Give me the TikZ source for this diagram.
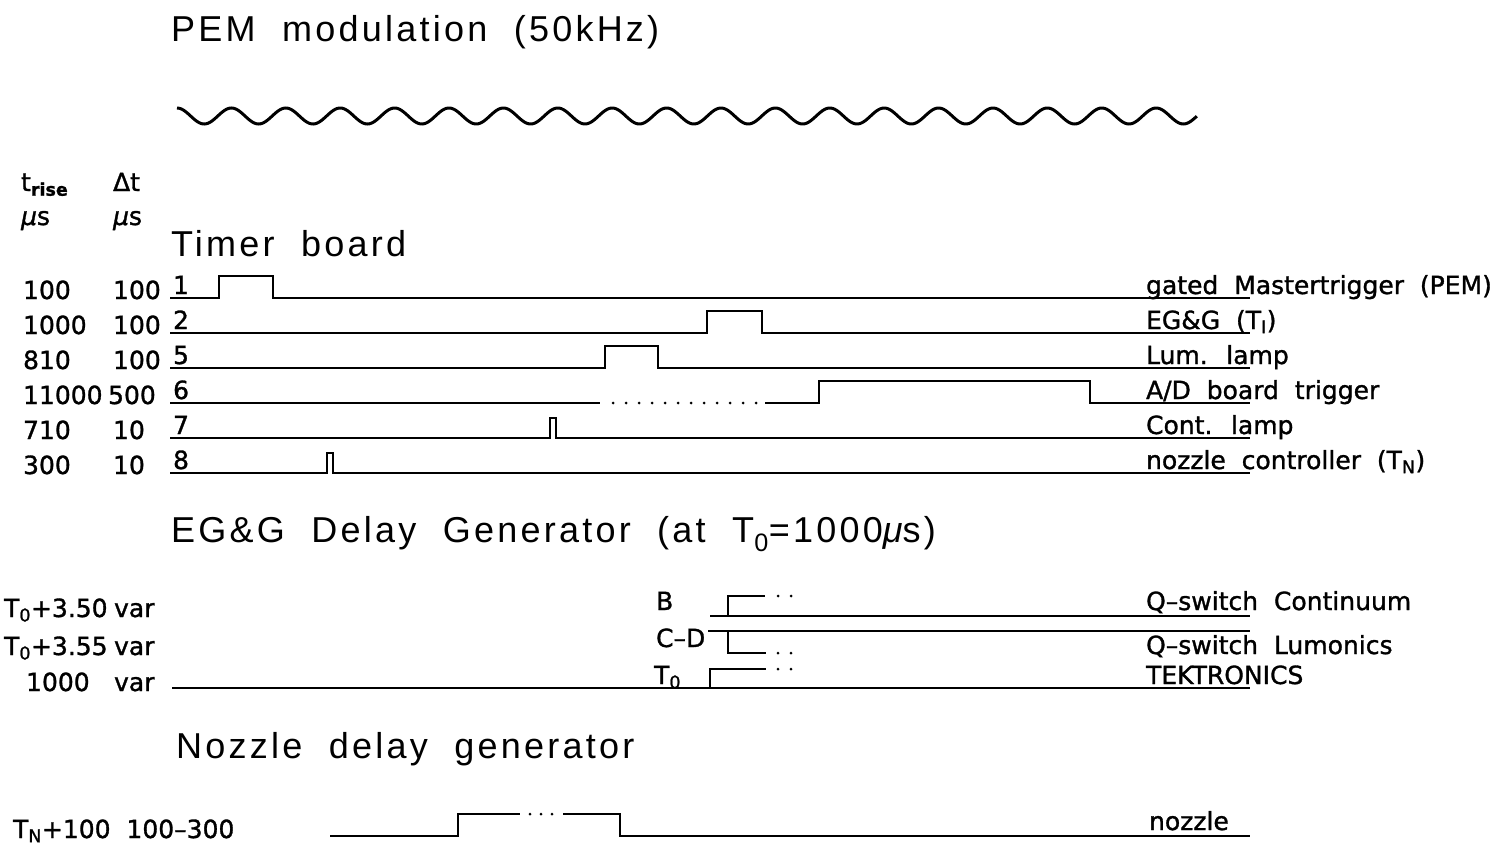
\documentclass[tikz,border=0pt]{standalone}
\usepackage{fontspec}
\setmainfont{DejaVu Sans}[WordSpace=2, FakeBold=1.2]
\newfontfamily\headfont{Liberation Sans}[LetterSpace=9, WordSpace=2]
\usetikzlibrary{positioning}
\tikzset{
  lab/.style={anchor=base west, inner sep=0pt, font=\fontsize{25}{25}\selectfont},
  head/.style={anchor=base west, inner sep=0pt, font=\headfont\fontsize{36}{36}\selectfont},
  dot/.style={fill, circle, inner sep=0pt, minimum size=3pt}
}

\begin{document}
\begin{tikzpicture}[x=1pt, y=-1pt, line width=2.2pt]
  \useasboundingbox (0,0) rectangle (1507,849);
  % PEM modulation
  \node[head] (pem) at (170,41) {PEM modulation (50kHz)};
  \draw[line width=3pt] plot[domain=0:18.75, samples=600, smooth] ({177+54.4*\x},{116-8*cos(360*\x)});

  % column heads
  \node[lab] (trise) at (20,191) {t\textsubscript{\bfseries rise}};
  \node[lab] (dtime) at (112,191) {Δt};
  \node[lab] (trunit) at (20,225) {{\itshape μ}s};
  \node[lab] (dtunit) at (112,225) {{\itshape μ}s};

  % timer board
  \node[head] (timer) at (170,256) {Timer board};
  \foreach \y/\n/\trv/\dx/\dtv/\txt in {298/1/100/112/100/{gated Mastertrigger (PEM)},
      333/2/1000/112/100/{EG\&G (T\textsubscript{I})}, 368/5/810/112/100/{Lum. lamp},
      403/6/11000/107/500/{A/D board trigger}, 438/7/710/112/10/{Cont. lamp},
      473/8/300/112/10/{nozzle controller (T\textsubscript{N})}}{
    \node[lab] (tr\n) at (22,\y+1) {\trv};
    \node[lab] (dt\n) at (\dx,\y+1) {\dtv};
    \node[lab] (no\n) at (172,\y-4) {\n};
    \node[lab] (sig\n) at (1145,\y-4) {\txt};
  }
  \foreach \y/\a/\b in {298/219/273, 333/707/762, 368/605/658}
    \draw (170,\y) -- (\a,\y) -- (\a,\y-22) -- (\b,\y-22) -- (\b,\y) -- (1250,\y);
  \foreach \y/\a/\b in {438/550/556, 473/327/333}
    \draw (170,\y) -- (\a,\y) -- (\a,\y-20) -- (\b,\y-20) -- (\b,\y) -- (1250,\y);
  \draw (170,403) -- (600,403) (765,403) -- (819,403) -- (819,381) -- (1090,381) -- (1090,403) -- (1250,403);
  \foreach \x in {613,626,...,756} \node[dot] at (\x,403) {};

  % EG&G delay generator
  \node[head] (egg) at (170,542) {EG\&G Delay Generator (at T\textsubscript{0}=1000{\itshape μ}s)};
  \node[lab] (dlyb) at (3,617) {T\textsubscript{0}+3.50};
  \node[lab] (varb) at (113,617) {var};
  \node[lab] (dlycd) at (3,655) {T\textsubscript{0}+3.55};
  \node[lab] (varcd) at (113,655) {var};
  \node[lab] (dlyt) at (25,691) {1000};
  \node[lab] (vart) at (113,691) {var};
  \node[lab] (chb) at (655,610) {B};
  \node[lab] (chcd) at (655,647) {C–D};
  \node[lab] (cht) at (653,684) {T\textsubscript{0}};
  \node[lab] (qcont) at (1145,610) {Q–switch Continuum};
  \node[lab] (qlum) at (1145,654) {Q–switch Lumonics};
  \node[lab] (tek) at (1145,684) {TEKTRONICS};
  \draw (710,616) -- (1250,616) (728,616) -- (728,596) -- (765,596);
  \draw (708,631) -- (1250,631) (728,631) -- (728,653) -- (766,653);
  \draw (172,688) -- (1250,688) (710,688) -- (710,669) -- (766,669);
  \foreach \y in {596,653,669} \node[dot] at (778,\y) {} node[dot] at (791,\y) {};

  % nozzle delay generator
  \node[head] (noz) at (175,758) {Nozzle delay generator};
  \node[lab] (dlyn) at (12,838) {T\textsubscript{N}+100 100–300};
  \node[lab] (nozzle) at (1148,830) {nozzle};
  \draw (330,836) -- (458,836) -- (458,814) -- (520,814) (563,814) -- (620,814) -- (620,836) -- (1250,836);
  \foreach \x in {530,541,552} \node[dot] at (\x,814) {};
\end{tikzpicture}
\end{document}
